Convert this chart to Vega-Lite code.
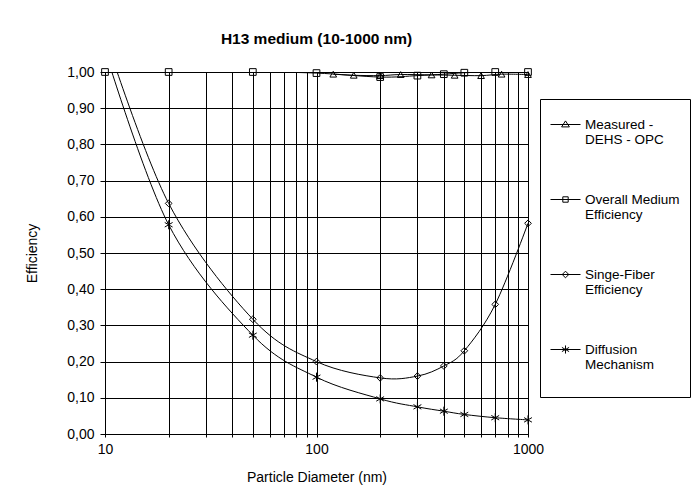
{
  "$schema": "https://vega.github.io/schema/vega-lite/v6.json",
  "width": 423,
  "height": 362,
  "autosize": {"type": "none"},
  "padding": {"left": 105, "top": 72, "right": 167, "bottom": 62},
  "background": "white",
  "config": {
    "font": "Liberation Sans",
    "view": {"stroke": "black", "strokeWidth": 1},
    "axis": {"gridColor": "black", "gridOpacity": 1, "gridWidth": 1, "domainColor": "black", "tickColor": "black", "labelColor": "black", "titleColor": "black", "labelFontSize": 14, "titleFontSize": 14, "titleFontWeight": "normal", "labelFont": "Liberation Sans", "titleFont": "Liberation Sans"}
  },
  "title": {"text": "H13 medium (10-1000 nm)", "fontSize": 15.5, "font": "Liberation Sans", "fontWeight": "bold", "anchor": "middle", "offset": 18, "color": "black"},
  "data": {
    "values": [
      {"series": "Measured - DEHS - OPC", "d": 120, "eff": 0.994},
      {"series": "Measured - DEHS - OPC", "d": 150, "eff": 0.991},
      {"series": "Measured - DEHS - OPC", "d": 200, "eff": 0.990},
      {"series": "Measured - DEHS - OPC", "d": 250, "eff": 0.993},
      {"series": "Measured - DEHS - OPC", "d": 350, "eff": 0.992},
      {"series": "Measured - DEHS - OPC", "d": 450, "eff": 0.991},
      {"series": "Measured - DEHS - OPC", "d": 600, "eff": 0.990},
      {"series": "Measured - DEHS - OPC", "d": 750, "eff": 0.994},
      {"series": "Measured - DEHS - OPC", "d": 1000, "eff": 0.993},
      {"series": "Overall Medium Efficiency", "d": 10, "eff": 1.0},
      {"series": "Overall Medium Efficiency", "d": 20, "eff": 1.0},
      {"series": "Overall Medium Efficiency", "d": 50, "eff": 1.0},
      {"series": "Overall Medium Efficiency", "d": 100, "eff": 0.997},
      {"series": "Overall Medium Efficiency", "d": 200, "eff": 0.986},
      {"series": "Overall Medium Efficiency", "d": 300, "eff": 0.990},
      {"series": "Overall Medium Efficiency", "d": 400, "eff": 0.994},
      {"series": "Overall Medium Efficiency", "d": 500, "eff": 0.998},
      {"series": "Overall Medium Efficiency", "d": 700, "eff": 1.0},
      {"series": "Overall Medium Efficiency", "d": 1000, "eff": 1.0},
      {"series": "Singe-Fiber Efficiency", "d": 10, "eff": 1.10},
      {"series": "Singe-Fiber Efficiency", "d": 20, "eff": 0.637},
      {"series": "Singe-Fiber Efficiency", "d": 50, "eff": 0.317},
      {"series": "Singe-Fiber Efficiency", "d": 100, "eff": 0.200},
      {"series": "Singe-Fiber Efficiency", "d": 200, "eff": 0.155},
      {"series": "Singe-Fiber Efficiency", "d": 300, "eff": 0.160},
      {"series": "Singe-Fiber Efficiency", "d": 400, "eff": 0.188},
      {"series": "Singe-Fiber Efficiency", "d": 500, "eff": 0.230},
      {"series": "Singe-Fiber Efficiency", "d": 700, "eff": 0.358},
      {"series": "Singe-Fiber Efficiency", "d": 1000, "eff": 0.582},
      {"series": "Diffusion Mechanism", "d": 10, "eff": 1.06},
      {"series": "Diffusion Mechanism", "d": 20, "eff": 0.578},
      {"series": "Diffusion Mechanism", "d": 50, "eff": 0.273},
      {"series": "Diffusion Mechanism", "d": 100, "eff": 0.157},
      {"series": "Diffusion Mechanism", "d": 200, "eff": 0.097},
      {"series": "Diffusion Mechanism", "d": 300, "eff": 0.075},
      {"series": "Diffusion Mechanism", "d": 400, "eff": 0.063},
      {"series": "Diffusion Mechanism", "d": 500, "eff": 0.054},
      {"series": "Diffusion Mechanism", "d": 700, "eff": 0.045},
      {"series": "Diffusion Mechanism", "d": 1000, "eff": 0.039}
    ]
  },
  "encoding": {
    "x": {
      "field": "d", "type": "quantitative",
      "scale": {"type": "log", "domain": [10, 1000], "nice": false},
      "axis": {
        "title": "Particle Diameter (nm)",
        "values": [10, 20, 30, 40, 50, 60, 70, 80, 90, 100, 200, 300, 400, 500, 600, 700, 800, 900, 1000],
        "labelExpr": "indexof([10, 100, 1000], datum.value) >= 0 ? format(datum.value, 'd') : ''",
        "labelOverlap": false, "labelFlush": false, "tickSize": 3, "labelPadding": 5, "titlePadding": 14
      }
    },
    "y": {
      "field": "eff", "type": "quantitative",
      "scale": {"domain": [0, 1], "nice": false, "zero": false},
      "axis": {
        "title": "Efficiency",
        "values": [0, 0.1, 0.2, 0.3, 0.4, 0.5, 0.6, 0.7, 0.8, 0.9, 1.0],
        "labelExpr": "replace(format(datum.value, '.2f'), '.', ',')",
        "tickSize": 5, "labelPadding": 6, "titlePadding": 27
      }
    }
  },
  "resolve": {"scale": {"shape": "independent"}, "legend": {"shape": "independent"}},
  "layer": [
    {
      "mark": {"type": "line", "interpolate": "cardinal", "color": "black", "strokeWidth": 1, "clip": true},
      "encoding": {"detail": {"field": "series"}}
    },
    {
      "transform": [{"filter": "datum.eff <= 1"}],
      "mark": {"type": "point", "filled": false, "color": "black", "strokeWidth": 1, "opacity": 1, "size": 45, "clip": false},
      "encoding": {
        "shape": {
          "field": "series", "type": "nominal",
          "scale": {
            "domain": ["Measured - DEHS - OPC", "Overall Medium Efficiency", "Singe-Fiber Efficiency", "Diffusion Mechanism"],
            "range": ["triangle-up", "square", "diamond", "M0,-1.35V1.35M-1.17,-0.68L1.17,0.68M-1.17,0.68L1.17,-0.68"]
          },
          "legend": null
        }
      }
    },
    {
      "transform": [{"filter": "false"}],
      "mark": {"type": "point", "filled": false, "color": "black", "strokeWidth": 1, "opacity": 1, "size": 900},
      "encoding": {
        "shape": {
          "field": "series", "type": "nominal",
          "scale": {
            "domain": ["Measured - DEHS - OPC", "Overall Medium Efficiency", "Singe-Fiber Efficiency", "Diffusion Mechanism"],
            "range": [
              "M-1,0H1M0,-0.24L0.26,0.16H-0.26Z",
              "M-1,0H1M-0.18,-0.18H0.18V0.18H-0.18Z",
              "M-1,0H1M0,-0.22L0.22,0L0,0.22L-0.22,0Z",
              "M-1,0H1M0,-0.27V0.27M-0.24,-0.14L0.24,0.14M-0.24,0.14L0.24,-0.14"
            ]
          },
          "legend": {
            "title": null,
            "orient": "none",
            "legendX": 435,
            "legendY": 27,
            "strokeColor": "black",
            "padding": 10,
            "rowPadding": 37,
            "symbolSize": 900,
            "symbolStrokeColor": "black",
            "symbolStrokeWidth": 1,
            "symbolOpacity": 1,
            "labelFontSize": 13.5,
            "labelColor": "black",
            "labelOffset": 4,
            "labelLimit": 200,
            "labelExpr": "datum.value === 'Measured - DEHS - OPC' ? ['Measured -', 'DEHS - OPC'] : datum.value === 'Overall Medium Efficiency' ? ['Overall Medium', 'Efficiency'] : datum.value === 'Singe-Fiber Efficiency' ? ['Singe-Fiber', 'Efficiency'] : ['Diffusion', 'Mechanism', '']"
          }
        }
      }
    }
  ]
}
